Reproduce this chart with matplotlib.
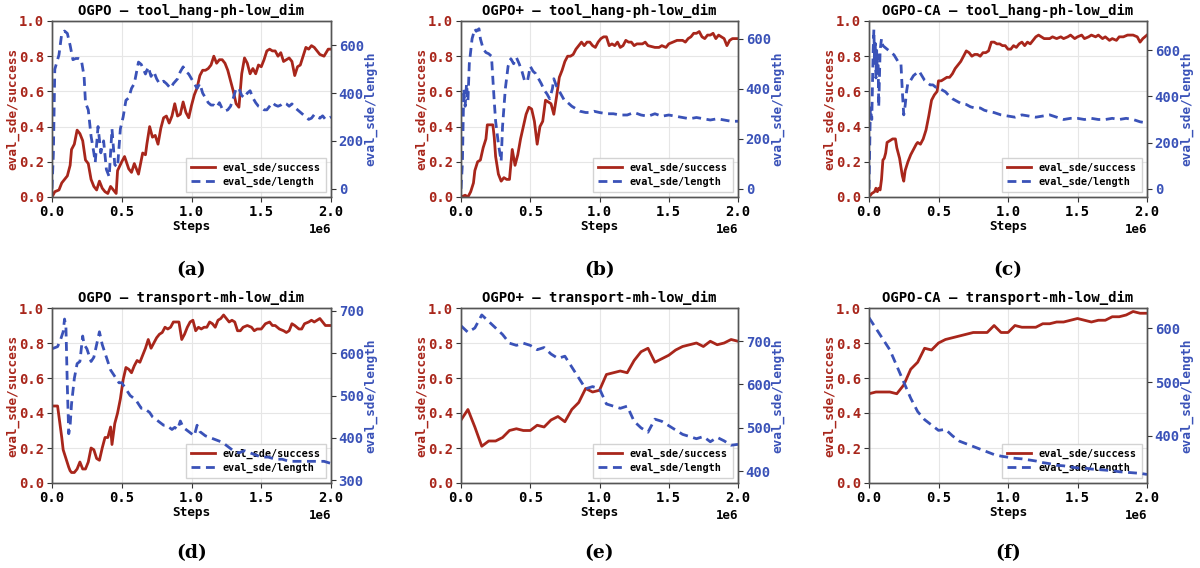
"""Success rate and episode length curves for OGPO variants."""

import matplotlib

matplotlib.use("Agg")
import matplotlib.pyplot as plt
import numpy as np

RED = "#a8261b"
BLUE = "#3a52b8"

# ---- (a) OGPO - tool_hang ----
a_succ_x = [0.00, 0.02, 0.05, 0.07, 0.09, 0.11, 0.13, 0.14, 0.16, 0.18,
            0.20, 0.22, 0.24, 0.26, 0.28, 0.30, 0.32, 0.34, 0.36, 0.38,
            0.40, 0.42, 0.44, 0.46, 0.47, 0.50, 0.52, 0.55, 0.57, 0.59,
            0.62, 0.65, 0.67, 0.68, 0.70, 0.72, 0.74, 0.76, 0.78, 0.80,
            0.82, 0.84, 0.86, 0.88, 0.90, 0.92, 0.94, 0.96, 0.98, 1.00,
            1.02, 1.04, 1.06, 1.08, 1.10, 1.12, 1.14, 1.16, 1.18, 1.20,
            1.22, 1.24, 1.26, 1.28, 1.30, 1.32, 1.34, 1.36, 1.38, 1.40,
            1.42, 1.44, 1.46, 1.48, 1.50, 1.52, 1.54, 1.56, 1.58, 1.60,
            1.62, 1.64, 1.66, 1.68, 1.70, 1.72, 1.74, 1.76, 1.78, 1.80,
            1.82, 1.84, 1.86, 1.88, 1.90, 1.92, 1.95, 1.98, 2.00]
a_succ_y = [0.00, 0.03, 0.04, 0.08, 0.10, 0.12, 0.18, 0.27, 0.30, 0.38,
            0.36, 0.32, 0.21, 0.19, 0.10, 0.06, 0.04, 0.09, 0.05, 0.03,
            0.02, 0.06, 0.04, 0.02, 0.15, 0.20, 0.23, 0.16, 0.14, 0.19,
            0.13, 0.25, 0.24, 0.30, 0.40, 0.34, 0.35, 0.30, 0.39, 0.45,
            0.46, 0.42, 0.46, 0.53, 0.46, 0.47, 0.54, 0.48, 0.45, 0.52,
            0.58, 0.62, 0.69, 0.72, 0.72, 0.73, 0.75, 0.80, 0.76, 0.78,
            0.78, 0.76, 0.72, 0.66, 0.60, 0.53, 0.51, 0.70, 0.79, 0.76,
            0.70, 0.73, 0.70, 0.75, 0.74, 0.78, 0.83, 0.84, 0.83, 0.83,
            0.80, 0.82, 0.77, 0.78, 0.79, 0.77, 0.69, 0.74, 0.75, 0.80,
            0.85, 0.84, 0.86, 0.85, 0.83, 0.81, 0.80, 0.84, 0.84]
a_len_x = [0.00, 0.01, 0.02, 0.04, 0.05, 0.07, 0.09, 0.11, 0.13, 0.15,
           0.17, 0.19, 0.21, 0.23, 0.24, 0.26, 0.28, 0.30, 0.31, 0.33,
           0.35, 0.37, 0.39, 0.41, 0.43, 0.45, 0.47, 0.49, 0.51, 0.53,
           0.55, 0.57, 0.59, 0.61, 0.62, 0.64, 0.67, 0.69, 0.71, 0.73,
           0.75, 0.77, 0.80, 0.82, 0.85, 0.87, 0.90, 0.92, 0.94, 0.96,
           0.98, 1.00, 1.02, 1.04, 1.06, 1.08, 1.10, 1.12, 1.14, 1.16,
           1.18, 1.20, 1.22, 1.24, 1.26, 1.28, 1.30, 1.32, 1.34, 1.36,
           1.38, 1.40, 1.42, 1.44, 1.46, 1.48, 1.50, 1.52, 1.54, 1.56,
           1.58, 1.60, 1.62, 1.64, 1.66, 1.68, 1.70, 1.72, 1.74, 1.76,
           1.78, 1.80, 1.82, 1.84, 1.86, 1.88, 1.90, 1.92, 1.94, 1.96,
           2.00]
a_len_y = [0, 150, 500, 540, 560, 650, 660, 650, 600, 540,
           545, 545, 540, 470, 360, 330, 220, 150, 110, 260,
           150, 200, 80, 50, 250, 100, 90, 250, 300, 370,
           380, 420, 440, 500, 530, 520, 480, 510, 470, 490,
           460, 440, 450, 440, 420, 440, 460, 490, 510, 490,
           480, 460, 440, 420, 440, 400, 380, 360, 350, 350,
           340, 360, 335, 325, 330, 345, 380, 420, 420, 390,
           380, 400, 410, 380, 360, 345, 340, 330, 330, 345,
           360, 350, 345, 350, 360, 355, 345, 355, 340, 330,
           320, 310, 300, 290, 295, 310, 300, 295, 305, 290,
           300]

# ---- (b) OGPO+ - tool_hang ----
b_succ_x = [0.00, 0.03, 0.05, 0.07, 0.09, 0.10, 0.12, 0.14, 0.16, 0.18,
            0.19, 0.21, 0.23, 0.24, 0.25, 0.27, 0.29, 0.31, 0.33, 0.35,
            0.37, 0.39, 0.41, 0.43, 0.45, 0.47, 0.49, 0.51, 0.53, 0.55,
            0.57, 0.59, 0.61, 0.63, 0.65, 0.67, 0.69, 0.71, 0.73, 0.75,
            0.77, 0.79, 0.81, 0.83, 0.85, 0.87, 0.89, 0.91, 0.93, 0.95,
            0.97, 0.99, 1.01, 1.03, 1.05, 1.07, 1.09, 1.11, 1.13, 1.15,
            1.17, 1.19, 1.21, 1.23, 1.25, 1.27, 1.29, 1.31, 1.33, 1.35,
            1.40, 1.43, 1.45, 1.48, 1.50, 1.53, 1.56, 1.60, 1.62, 1.64,
            1.66, 1.68, 1.70, 1.72, 1.74, 1.76, 1.78, 1.80, 1.82, 1.84,
            1.86, 1.88, 1.90, 1.92, 1.94, 1.96, 2.00]
b_succ_y = [0.00, 0.01, 0.00, 0.03, 0.08, 0.15, 0.20, 0.21, 0.28, 0.33,
            0.41, 0.41, 0.41, 0.34, 0.23, 0.13, 0.09, 0.11, 0.10, 0.10,
            0.27, 0.18, 0.24, 0.33, 0.40, 0.47, 0.51, 0.50, 0.43, 0.30,
            0.40, 0.43, 0.55, 0.54, 0.53, 0.47, 0.57, 0.68, 0.72, 0.77,
            0.80, 0.80, 0.81, 0.84, 0.86, 0.88, 0.86, 0.88, 0.88, 0.86,
            0.85, 0.88, 0.90, 0.91, 0.91, 0.86, 0.87, 0.86, 0.88, 0.85,
            0.86, 0.89, 0.88, 0.88, 0.86, 0.87, 0.87, 0.87, 0.88, 0.86,
            0.85, 0.85, 0.86, 0.85, 0.87, 0.88, 0.89, 0.89, 0.88, 0.90,
            0.91, 0.93, 0.93, 0.94, 0.91, 0.90, 0.92, 0.92, 0.93, 0.90,
            0.92, 0.91, 0.90, 0.86, 0.89, 0.90, 0.90]
b_len_x = [0.00, 0.01, 0.02, 0.03, 0.04, 0.05, 0.06, 0.08, 0.10, 0.11,
           0.13, 0.14, 0.16, 0.18, 0.20, 0.22, 0.23, 0.24, 0.25, 0.27,
           0.29, 0.30, 0.32, 0.34, 0.36, 0.38, 0.40, 0.42, 0.44, 0.46,
           0.48, 0.50, 0.52, 0.54, 0.56, 0.58, 0.60, 0.62, 0.64, 0.66,
           0.67, 0.69, 0.71, 0.73, 0.75, 0.77, 0.80, 0.83, 0.86, 0.90,
           0.93, 0.96, 1.00, 1.05, 1.10, 1.15, 1.20, 1.25, 1.30, 1.35,
           1.40, 1.45, 1.50, 1.55, 1.60, 1.65, 1.70, 1.75, 1.80, 1.85,
           1.90, 1.95, 2.00]
b_len_y = [0, 100, 400, 330, 420, 350, 500, 600, 640, 630,
           640, 600, 560, 545, 540, 530, 440, 350, 270, 180,
           110, 250, 400, 490, 520, 500, 525, 500, 470, 430,
           430, 490, 470, 460, 440, 420, 395, 380, 360, 400,
           440, 410, 390, 370, 350, 345, 330, 320, 310, 305,
           305, 310, 305, 300, 300, 295, 295, 305, 295, 290,
           300, 290, 295, 290, 285, 280, 285, 280, 275, 280,
           275, 270, 270]

# ---- (c) OGPO-CA - tool_hang ----
c_succ_x = [0.00, 0.02, 0.04, 0.05, 0.06, 0.07, 0.08, 0.09, 0.10, 0.11,
            0.12, 0.13, 0.15, 0.17, 0.19, 0.20, 0.22, 0.24, 0.25, 0.26,
            0.28, 0.30, 0.32, 0.34, 0.35, 0.37, 0.39, 0.41, 0.43, 0.45,
            0.47, 0.49, 0.50, 0.52, 0.54, 0.56, 0.58, 0.60, 0.62, 0.64,
            0.66, 0.68, 0.70, 0.72, 0.74, 0.76, 0.78, 0.80, 0.82, 0.84,
            0.86, 0.88, 0.90, 0.92, 0.94, 0.96, 0.98, 1.00, 1.02, 1.04,
            1.06, 1.08, 1.10, 1.12, 1.14, 1.16, 1.18, 1.20, 1.22, 1.24,
            1.26, 1.30, 1.32, 1.35, 1.38, 1.40, 1.43, 1.45, 1.48, 1.50,
            1.53, 1.55, 1.58, 1.60, 1.63, 1.65, 1.68, 1.70, 1.73, 1.75,
            1.78, 1.80, 1.83, 1.86, 1.90, 1.93, 1.95, 1.97, 2.00]
c_succ_y = [0.00, 0.02, 0.03, 0.05, 0.03, 0.05, 0.04, 0.10, 0.21, 0.22,
            0.25, 0.31, 0.32, 0.33, 0.33, 0.28, 0.22, 0.12, 0.09, 0.15,
            0.20, 0.24, 0.27, 0.30, 0.31, 0.30, 0.33, 0.38, 0.46, 0.55,
            0.58, 0.60, 0.66, 0.66, 0.67, 0.68, 0.68, 0.70, 0.73, 0.75,
            0.77, 0.80, 0.83, 0.82, 0.80, 0.81, 0.81, 0.80, 0.82, 0.82,
            0.83, 0.88, 0.88, 0.87, 0.87, 0.86, 0.86, 0.84, 0.84, 0.86,
            0.85, 0.87, 0.88, 0.86, 0.88, 0.87, 0.89, 0.91, 0.92, 0.91,
            0.90, 0.90, 0.91, 0.90, 0.91, 0.90, 0.91, 0.92, 0.90, 0.91,
            0.92, 0.90, 0.91, 0.92, 0.91, 0.92, 0.90, 0.91, 0.89, 0.90,
            0.89, 0.91, 0.91, 0.92, 0.92, 0.91, 0.88, 0.90, 0.92]
c_len_x = [0.000, 0.010, 0.020, 0.030, 0.035, 0.040, 0.045, 0.050, 0.055, 0.060,
           0.065, 0.070, 0.080, 0.090, 0.100, 0.120, 0.140, 0.160, 0.180, 0.200,
           0.220, 0.230, 0.240, 0.250, 0.260, 0.270, 0.280, 0.300, 0.320, 0.340,
           0.360, 0.380, 0.400, 0.420, 0.440, 0.460, 0.480, 0.500, 0.520, 0.550,
           0.580, 0.600, 0.630, 0.660, 0.700, 0.730, 0.760, 0.800, 0.830, 0.860,
           0.900, 0.950, 1.000, 1.050, 1.100, 1.150, 1.200, 1.250, 1.300, 1.350,
           1.400, 1.450, 1.500, 1.550, 1.600, 1.650, 1.700, 1.750, 1.800, 1.850,
           1.900, 1.950, 2.000]
c_len_y = [0, 350, 300, 600, 690, 550, 630, 480, 600, 500,
           580, 355, 600, 650, 620, 610, 600, 590, 580, 560,
           540, 540, 420, 320, 360, 420, 460, 470, 490, 500,
           510, 490, 470, 460, 450, 450, 440, 440, 430, 420,
           400, 390, 380, 370, 365, 355, 350, 350, 340, 335,
           330, 320, 315, 310, 320, 315, 310, 315, 320, 310,
           300, 305, 305, 300, 305, 300, 300, 305, 300, 305,
           300, 290, 285]

# ---- (d) OGPO - transport ----
d_succ_x = [0.00, 0.04, 0.05, 0.07, 0.08, 0.10, 0.12, 0.13, 0.14, 0.16,
            0.18, 0.20, 0.22, 0.24, 0.26, 0.28, 0.30, 0.32, 0.34, 0.36,
            0.38, 0.40, 0.42, 0.43, 0.45, 0.47, 0.49, 0.51, 0.53, 0.55,
            0.57, 0.59, 0.61, 0.63, 0.65, 0.67, 0.69, 0.71, 0.73, 0.75,
            0.77, 0.79, 0.81, 0.83, 0.85, 0.87, 0.89, 0.91, 0.93, 0.95,
            0.97, 0.99, 1.01, 1.03, 1.05, 1.07, 1.09, 1.11, 1.13, 1.15,
            1.17, 1.19, 1.21, 1.23, 1.25, 1.27, 1.29, 1.31, 1.33, 1.35,
            1.37, 1.40, 1.43, 1.45, 1.47, 1.50, 1.53, 1.56, 1.58, 1.60,
            1.63, 1.66, 1.68, 1.70, 1.72, 1.74, 1.77, 1.79, 1.81, 1.84,
            1.86, 1.88, 1.90, 1.92, 1.94, 1.96, 1.98, 2.00]
d_succ_y = [0.44, 0.44, 0.38, 0.26, 0.19, 0.14, 0.09, 0.07, 0.06, 0.06,
            0.08, 0.12, 0.08, 0.08, 0.12, 0.20, 0.19, 0.14, 0.13, 0.20,
            0.26, 0.26, 0.32, 0.22, 0.34, 0.40, 0.48, 0.59, 0.66, 0.65,
            0.63, 0.67, 0.70, 0.69, 0.73, 0.77, 0.82, 0.77, 0.80, 0.83,
            0.85, 0.86, 0.89, 0.88, 0.89, 0.92, 0.92, 0.92, 0.82, 0.85,
            0.89, 0.92, 0.93, 0.87, 0.89, 0.88, 0.89, 0.89, 0.92, 0.91,
            0.89, 0.93, 0.94, 0.96, 0.94, 0.92, 0.93, 0.92, 0.87, 0.87,
            0.89, 0.90, 0.89, 0.87, 0.88, 0.88, 0.91, 0.92, 0.90, 0.90,
            0.88, 0.87, 0.86, 0.87, 0.91, 0.90, 0.88, 0.88, 0.91, 0.92,
            0.93, 0.92, 0.93, 0.94, 0.92, 0.90, 0.90, 0.90]
d_len_x = [0.00, 0.04, 0.06, 0.08, 0.09, 0.10, 0.11, 0.12, 0.13, 0.14,
           0.16, 0.18, 0.20, 0.22, 0.23, 0.25, 0.27, 0.28, 0.30, 0.32,
           0.34, 0.36, 0.38, 0.40, 0.42, 0.44, 0.46, 0.48, 0.50, 0.52,
           0.54, 0.56, 0.58, 0.60, 0.62, 0.64, 0.66, 0.68, 0.70, 0.72,
           0.74, 0.76, 0.78, 0.80, 0.82, 0.84, 0.86, 0.88, 0.90, 0.92,
           0.94, 0.96, 0.98, 1.00, 1.02, 1.04, 1.06, 1.10, 1.14, 1.18,
           1.22, 1.26, 1.30, 1.34, 1.38, 1.42, 1.46, 1.50, 1.55, 1.60,
           1.65, 1.70, 1.75, 1.80, 1.85, 1.90, 1.95, 2.00]
d_len_y = [610, 615, 630, 650, 680, 660, 520, 410, 430, 480,
           540, 575, 580, 640, 620, 610, 590, 580, 590, 620,
           650, 620, 600, 580, 560, 550, 540, 530, 530, 520,
           510, 500, 495, 490, 480, 470, 470, 465, 460, 450,
           445, 440, 435, 430, 430, 425, 420, 425, 420, 440,
           425, 420, 415, 410, 405, 430, 415, 405, 400, 395,
           390, 380, 370, 365, 370, 365, 360, 355, 355, 350,
           350, 345, 345, 345, 345, 345, 345, 340]

# ---- (e), (f) transport: evaluated every 50k steps ----
ef_x = [0.00, 0.05, 0.10, 0.15, 0.20, 0.25, 0.30, 0.35, 0.40, 0.45,
        0.50, 0.55, 0.60, 0.65, 0.70, 0.75, 0.80, 0.85, 0.90, 0.95,
        1.00, 1.05, 1.10, 1.15, 1.20, 1.25, 1.30, 1.35, 1.40, 1.45,
        1.50, 1.55, 1.60, 1.65, 1.70, 1.75, 1.80, 1.85, 1.90, 1.95,
        2.00]
e_succ_y = [0.36, 0.42, 0.32, 0.21, 0.24, 0.24, 0.26, 0.30, 0.31, 0.30,
            0.30, 0.33, 0.32, 0.36, 0.38, 0.35, 0.42, 0.46, 0.54, 0.52,
            0.53, 0.62, 0.63, 0.64, 0.63, 0.70, 0.75, 0.77, 0.69, 0.71,
            0.73, 0.76, 0.78, 0.79, 0.80, 0.78, 0.81, 0.79, 0.80, 0.82,
            0.81]
e_len_y = [735, 720, 730, 760, 745, 730, 715, 695, 690, 695,
           690, 680, 685, 670, 660, 665, 640, 615, 590, 595,
           590, 555, 550, 545, 550, 515, 500, 490, 520, 515,
           505, 495, 485, 480, 475, 480, 468, 478, 470, 460,
           462]
f_succ_y = [0.51, 0.52, 0.52, 0.52, 0.51, 0.56, 0.65, 0.69, 0.77, 0.76,
            0.80, 0.82, 0.83, 0.84, 0.85, 0.86, 0.86, 0.86, 0.90, 0.86,
            0.86, 0.90, 0.89, 0.89, 0.89, 0.91, 0.91, 0.92, 0.92, 0.93,
            0.94, 0.93, 0.92, 0.93, 0.93, 0.95, 0.95, 0.96, 0.98, 0.97,
            0.97]
f_len_y = [620, 600, 580, 560, 530, 500, 470, 445, 430, 420,
           410, 412, 400, 390, 385, 380, 375, 370, 365, 362,
           360, 358, 357, 355, 353, 350, 348, 345, 344, 342,
           340, 340, 338, 337, 336, 335, 333, 332, 331, 330,
           328]

titles = [
    "OGPO — tool_hang-ph-low_dim",
    "OGPO+ — tool_hang-ph-low_dim",
    "OGPO-CA — tool_hang-ph-low_dim",
    "OGPO — transport-mh-low_dim",
    "OGPO+ — transport-mh-low_dim",
    "OGPO-CA — transport-mh-low_dim",
]
captions = ["(a)", "(b)", "(c)", "(d)", "(e)", "(f)"]

series = [
    (a_succ_x, a_succ_y, a_len_x, a_len_y),
    (b_succ_x, b_succ_y, b_len_x, b_len_y),
    (c_succ_x, c_succ_y, c_len_x, c_len_y),
    (d_succ_x, d_succ_y, d_len_x, d_len_y),
    (ef_x, e_succ_y, ef_x, e_len_y),
    (ef_x, f_succ_y, ef_x, f_len_y),
]

# right-axis ranges as shown in the figure
len_limits = [(-35, 702), (-33, 671), (-36, 727), (294, 706), (373, 776), (312, 638)]

# axes boxes in pixels: left, right, top, bottom
boxes = [
    (52, 331, 21, 197), (461, 738, 21, 197), (869, 1147, 21, 197),
    (52, 331, 308, 483), (461, 738, 308, 483), (869, 1147, 308, 483),
]
caption_y = [270, 270, 270, 553, 553, 553]

W, H = 1200, 568
plt.rcParams["font.family"] = "DejaVu Sans Mono"
plt.rcParams["font.weight"] = "bold"

fig = plt.figure(figsize=(W / 100, H / 100), dpi=100)

for i, (sx, sy, lx, ly) in enumerate(series):
    left, right, top, bottom = boxes[i]
    ax = fig.add_axes([left / W, 1 - bottom / H, (right - left) / W, (bottom - top) / H])
    ax2 = ax.twinx()

    (h1,) = ax.plot(np.array(sx) * 1e6, sy, color=RED, lw=2.0, label="eval_sde/success")
    (h2,) = ax2.plot(np.array(lx) * 1e6, ly, color=BLUE, lw=2.0, ls=(0, (3.2, 2)),
                     label="eval_sde/length")

    ax.set_xlim(0, 2e6)
    ax.set_ylim(0, 1.0)
    ax2.set_ylim(*len_limits[i])
    ax.grid(True, color="#e6e6e6", lw=0.8)
    ax.set_axisbelow(True)

    ax.set_title(titles[i], fontsize=10, fontweight="bold", pad=4)
    ax.set_xlabel("Steps", fontsize=9.2, fontweight="bold", labelpad=1)
    ax.set_ylabel("eval_sde/success", fontsize=9.2, fontweight="bold", color=RED,
                  labelpad=0)
    ax2.set_ylabel("eval_sde/length", fontsize=9.2, fontweight="bold", color=BLUE,
                   labelpad=0)

    ax.tick_params(axis="x", labelsize=10, colors="#333333", labelcolor="black", pad=2)
    ax.tick_params(axis="y", labelsize=10, colors="#333333", labelcolor=RED, pad=2)
    ax2.tick_params(axis="y", labelsize=10, colors="#333333", labelcolor=BLUE, pad=2)
    ax.xaxis.get_offset_text().set_fontsize(9)
    ax.xaxis.get_offset_text().set_fontweight("bold")

    for a in (ax, ax2):
        for sp in a.spines.values():
            sp.set_color("#555555")
            sp.set_linewidth(1.0)

    leg = ax.legend(handles=[h1, h2], loc="lower right", fontsize=7.3,
                    handlelength=2.3, framealpha=0.85, edgecolor="#cccccc",
                    fancybox=False, borderpad=0.5, labelspacing=0.35)
    leg.set_zorder(1)

    fig.text((left + right) / 2 / W, 1 - caption_y[i] / H, captions[i],
             family="DejaVu Serif", fontweight="bold", fontsize=13.5,
             ha="center", va="center")

fig.savefig("out.png", dpi=100)
